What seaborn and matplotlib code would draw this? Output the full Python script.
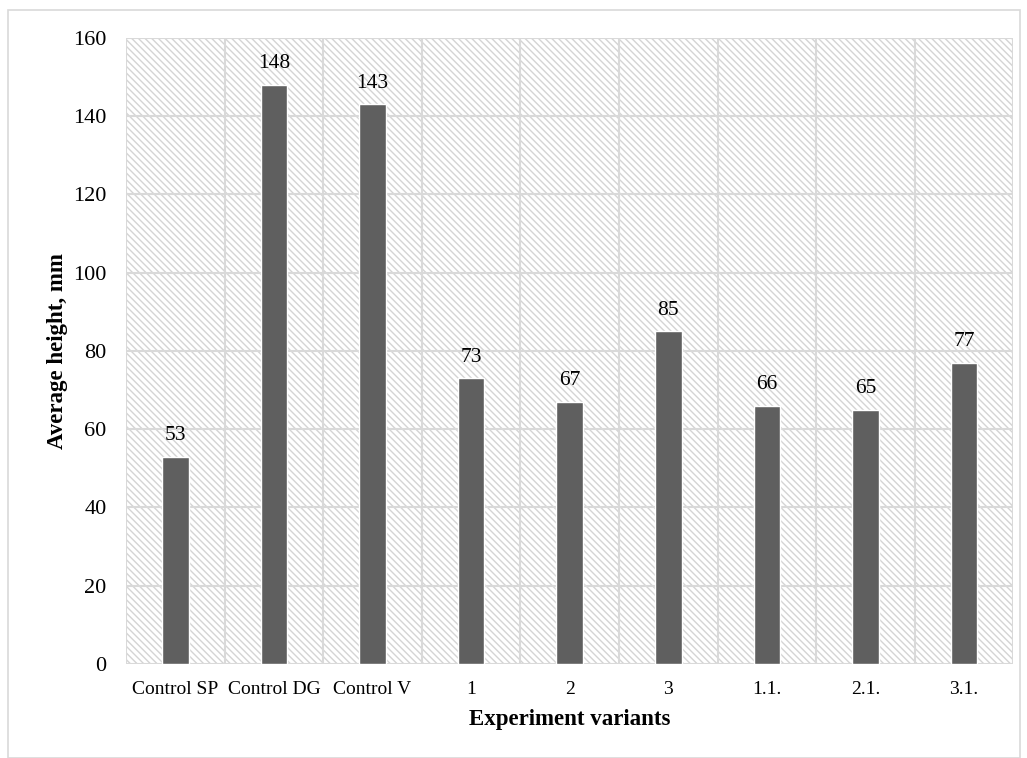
import pandas as pd
import matplotlib
matplotlib.use('Agg')
import seaborn as sns
from matplotlib import pyplot as plt
from matplotlib.patches import Rectangle

variants = ['Control SP', 'Control DG', 'Control V', '1', '2', '3', '1.1.', '2.1.', '3.1.']
heights = [53, 148, 143, 73, 67, 85, 66, 65, 77]

pd_data = pd.DataFrame({'Variant': variants, 'Height': heights})

sns.set_style("white")
plt.rcParams['font.family'] = ['Liberation Serif', 'DejaVu Serif']
plt.rcParams['text.color'] = 'black'
plt.rcParams['axes.labelcolor'] = 'black'
plt.rcParams['xtick.color'] = 'black'
plt.rcParams['ytick.color'] = 'black'
plt.rcParams['hatch.linewidth'] = 1.0
plt.rcParams['hatch.color'] = '#d4d4d4'

fig = plt.figure(figsize=(10.27, 7.58), dpi=100)
fig.patches.append(Rectangle((8/1027, 0), 1012/1027, 1-10/758, transform=fig.transFigure,
                             fill=False, edgecolor='#d9d9d9', linewidth=1.2))
axe = fig.add_axes([0.1227, 0.124, 0.864, 0.826])

# hatched background
axe.add_patch(Rectangle((0, 0), 1, 1, transform=axe.transAxes, facecolor='white',
                        edgecolor='#d4d4d4', hatch='\\\\\\\\\\', linewidth=0, zorder=0))

sns.barplot(data=pd_data, x='Variant', y='Height', order=variants, color='#5f5f5f',
            saturation=1, width=0.27, ax=axe, zorder=3)

axe.set_ylim(0, 160)
axe.set_xlim(-0.5, len(variants) - 0.5)
axe.set_yticks(range(0, 161, 20))
for y in range(20, 161, 20):
    axe.axhline(y, color='#d9d9d9', linewidth=1.5, zorder=1)
for x in range(len(variants) + 1):
    axe.axvline(x - 0.5, color='#d9d9d9', linewidth=1.5, zorder=1)

for i, h in enumerate(heights):
    axe.text(i, h + 3.0, str(h), ha='center', va='bottom', fontsize=15.5, zorder=4)

for s in axe.spines.values():
    s.set_visible(False)
axe.axhline(0, color='#d9d9d9', linewidth=1.5, zorder=2)

axe.tick_params(axis='y', labelsize=16, length=0, pad=14)
axe.tick_params(axis='x', labelsize=14, length=0, pad=12)
axe.set_xlabel('Experiment variants', fontsize=16.5, fontweight='bold', labelpad=8)
axe.set_ylabel('Average height, mm', fontsize=16.5, fontweight='bold', labelpad=4)

plt.savefig('out.png', dpi=100)
